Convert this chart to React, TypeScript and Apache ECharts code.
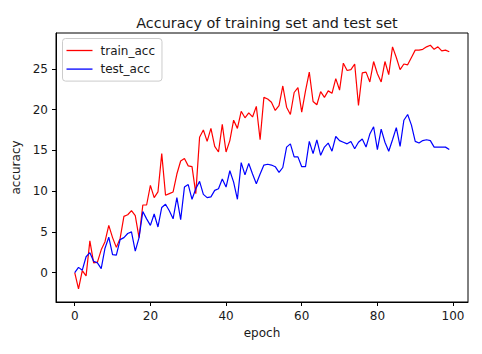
import React, { useEffect, useRef } from "react";
import * as echarts from "echarts";

const chartTitle = "Accuracy of training set and test set";
const xName = "epoch";
const yName = "accuracy";
const seriesNames = ["train_acc", "test_acc"];
const xTicks = [0, 20, 40, 60, 80, 100];
const yTicks = [0, 5, 10, 15, 20, 25];

const trainAcc = [
  0.0, -2.0, 0.25, -0.4, 3.9, 1.2, 1.3, 2.8, 3.8, 5.8,
  4.3, 3.1, 4.2, 6.9, 7.1, 7.6, 7.0, 4.3, 8.3, 8.3,
  10.7, 9.2, 9.9, 14.6, 9.5, 9.7, 9.9, 12.1, 13.7, 14.0,
  13.1, 13.0, 9.7, 16.6, 17.5, 16.1, 17.7, 15.5, 14.8, 18.2,
  14.8, 16.2, 18.7, 17.7, 19.8, 19.0, 19.6, 19.1, 20.4, 16.3,
  21.5, 21.3, 20.9, 19.9, 20.5, 22.9, 20.3, 19.4, 22.1, 22.7,
  19.7, 22.3, 24.6, 21.0, 20.6, 22.2, 21.5, 22.3, 22.0, 23.8,
  22.4, 25.7, 24.8, 24.9, 25.6, 20.5, 24.5, 24.6, 23.4, 25.9,
  24.4, 23.4, 25.9, 24.3, 27.7, 26.4, 24.9, 25.6, 25.5, 26.4,
  27.3, 27.3, 27.4, 27.7, 27.9, 27.4, 27.7, 27.2, 27.3, 27.1,
];

const testAcc = [
  0.0, 0.65, 0.3, 1.95, 2.45, 1.4, 1.2, 0.5, 3.0, 4.35,
  2.2, 2.15, 4.05, 4.3, 4.8, 5.0, 2.65, 4.3, 7.5, 6.6,
  5.8, 7.2, 5.6, 8.0, 8.4, 7.6, 6.6, 9.2, 6.5, 10.5,
  10.8, 9.0, 10.3, 11.2, 9.6, 9.2, 9.3, 10.1, 10.3, 11.5,
  10.5, 12.5, 11.1, 9.0, 13.5, 12.0, 13.4, 12.1, 10.9, 12.1,
  13.2, 13.3, 13.2, 13.0, 12.3, 12.9, 15.4, 15.8, 14.2, 14.2,
  13.0, 13.0, 16.1, 14.6, 16.3, 14.4, 15.4, 15.9, 14.9, 16.7,
  16.2, 16.0, 15.8, 16.1, 15.2, 16.0, 16.4, 15.4, 17.0, 17.9,
  15.1, 17.6, 16.0, 14.9, 16.3, 17.8, 15.5, 18.7, 19.4, 18.1,
  16.1, 15.9, 16.2, 16.3, 16.2, 15.4, 15.4, 15.4, 15.4, 15.1,
];

const seriesColors = ["#ff0000", "#0000ff"];

export default function App() {
  const ref = useRef<HTMLDivElement>(null);
  useEffect(() => {
    if (!ref.current) return;
    const chart = echarts.init(ref.current, null, { renderer: "svg" });
    const font = "DejaVu Sans";
    const textColor = "#1a1a1a";
    const allSeries = [trainAcc, testAcc];
    chart.setOption({
      animation: false,
      backgroundColor: "#ffffff",
      title: {
        text: chartTitle,
        left: 262,
        top: 11,
        textAlign: "center",
        textStyle: { fontFamily: font, fontSize: 14.4, fontWeight: "normal", color: textColor },
      },
      legend: {
        orient: "vertical",
        left: 62.5,
        top: 38.5,
        padding: [5, 7, 5, 4],
        icon: "rect",
        itemWidth: 26,
        itemHeight: 1.3,
        itemGap: 4.6,
        backgroundColor: "rgba(255,255,255,0.8)",
        borderColor: "#cccccc",
        borderWidth: 1,
        borderRadius: 3,
        textStyle: { fontFamily: font, fontSize: 12, lineHeight: 14, color: textColor, padding: [0, 0, 0, 3] },
        data: seriesNames,
      },
      grid: {
        left: 56,
        top: 33,
        width: 412,
        height: 269,
        show: true,
        borderColor: "#000000",
        borderWidth: 1,
        backgroundColor: "transparent",
      },
      xAxis: {
        type: "value",
        min: -4.95,
        max: 103.95,
        name: xName,
        nameLocation: "middle",
        nameGap: 25,
        nameTextStyle: { fontFamily: font, fontSize: 12, color: textColor },
        axisLine: { show: true, onZero: false, lineStyle: { color: "#000000", width: 1 } },
        axisTick: { show: true, length: 4, lineStyle: { color: "#000000" }, customValues: xTicks },
        axisLabel: { customValues: xTicks, fontFamily: font, fontSize: 12, color: textColor, margin: 8 },
        splitLine: { show: false },
      },
      yAxis: {
        type: "value",
        min: -3.6,
        max: 29.4,
        name: yName,
        nameLocation: "middle",
        nameGap: 32,
        nameTextStyle: { fontFamily: font, fontSize: 12, color: textColor },
        axisLine: { show: true, onZero: false, lineStyle: { color: "#000000", width: 1 } },
        axisTick: { show: true, length: 4, lineStyle: { color: "#000000" }, customValues: yTicks },
        axisLabel: { customValues: yTicks, fontFamily: font, fontSize: 12, color: textColor, margin: 8 },
        splitLine: { show: false },
      },
      series: allSeries.map((vals, si) => ({
        name: seriesNames[si],
        type: "line",
        data: vals.map((v, i) => [i, v]),
        symbol: "none",
        lineStyle: { color: seriesColors[si], width: 1.2 },
        itemStyle: { color: seriesColors[si] },
      })),
    });
    return () => chart.dispose();
  }, []);
  return <div ref={ref} style={{ position: "fixed", left: 0, top: 0, width: 482, height: 354 }} />;
}
